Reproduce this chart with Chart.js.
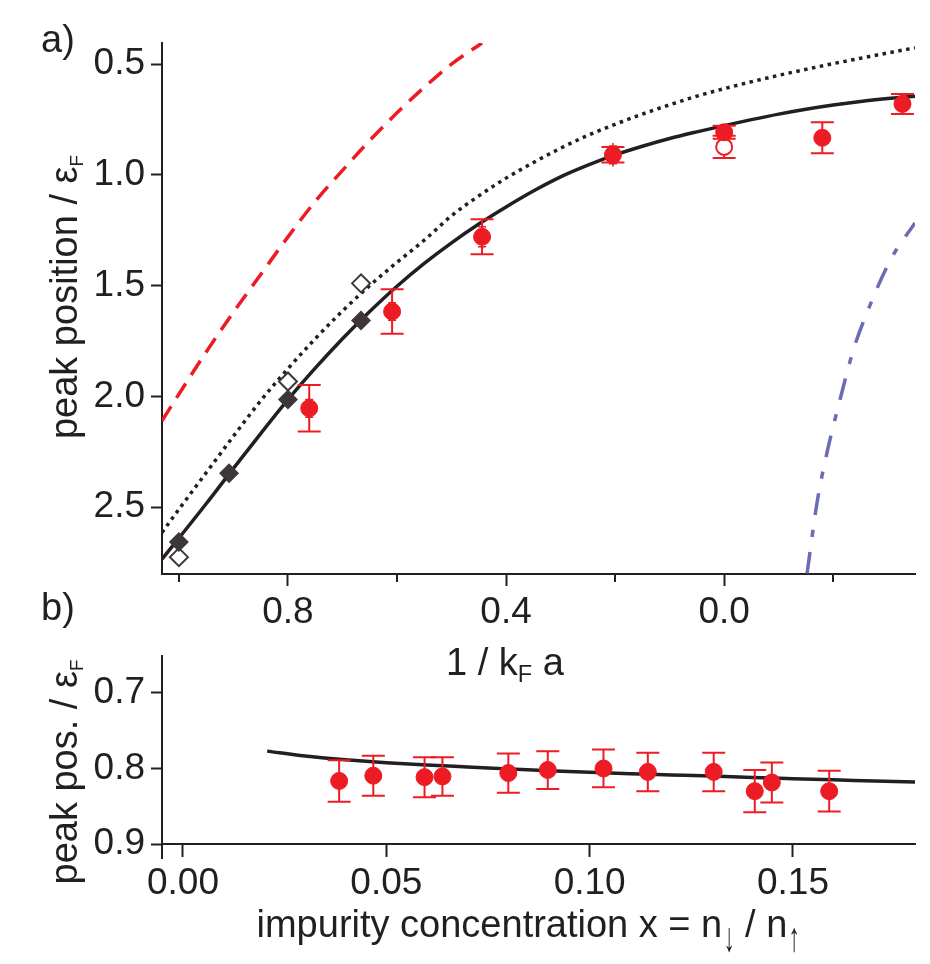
<!DOCTYPE html>
<html>
<head>
<meta charset="utf-8">
<script src="https://cdn.jsdelivr.net/npm/chart.js@4.4.1/dist/chart.umd.min.js"></script>
<style>
html,body{margin:0;padding:0;background:#fff;}
#wrap{position:relative;width:930px;height:964px;overflow:hidden;font-family:"Liberation Sans",Arial,Helvetica,sans-serif;color:#231f20;background:#fff;}
canvas{position:absolute;left:0;}
.t{position:absolute;white-space:nowrap;font-size:38px;line-height:38px;}
.t sub{line-height:0;}
.rot{transform:translate(-50%,-50%) rotate(-90deg);}
.ctr{transform:translateX(-50%);}
.arr{display:inline-block;font-size:0.8em;line-height:0;transform:scale(0.75,1.35);position:relative;top:0.33em;margin:0 -2px 0 -1px;}
</style>
</head>
<body>
<div id="wrap">
  <canvas id="chartA" width="930" height="640" style="top:0px"></canvas>
  <canvas id="chartB" width="930" height="324" style="top:640px"></canvas>
  <div class="t" style="left:41px;top:20px">a)</div>
  <div class="t" style="left:41px;top:588px">b)</div>
  <div class="t rot" style="left:64px;top:297px">peak position / ε<sub style="font-size:0.5em;vertical-align:-0.3em">F</sub></div>
  <div class="t rot" style="left:64px;top:772px">peak pos. / ε<sub style="font-size:0.5em;vertical-align:-0.3em">F</sub></div>
  <div class="t ctr" style="left:505px;top:643px">1 / k<sub style="font-size:0.62em;vertical-align:-0.3em">F</sub> a</div>
  <div class="t ctr" style="left:528px;top:905px">impurity concentration x = n<span class="arr">↓</span> / n<span class="arr">↑</span></div>
</div>
<script>
// ---------- Panel a: peak position vs 1/kFa ----------
const xMajorA = [0.8, 0.4, 0.0];
const xMajorLabelsA = ['0.8', '0.4', '0.0'];
const xMinorA = [1.0, 0.6, 0.2, -0.2];
const yTicksA = [0.5, 1.0, 1.5, 2.0, 2.5];
const yTickLabelsA = ['0.5', '1.0', '1.5', '2.0', '2.5'];

// experimental points (filled red circles)
const expX = [0.761, 0.609, 0.444, 0.204, 0.0, -0.18, -0.327];
const expY = [2.054, 1.617, 1.28, 0.91, 0.808, 0.833, 0.68];
const expErr = [0.105, 0.10, 0.079, 0.035, 0.029, 0.07, 0.045];
const expErrInner = [0.04, 0.04, 0.045, 0.04, 0.02, 0.0, 0.03];
// open red circle
const openX = [0.0];
const openY = [0.874];
const openErr = [0.05];
// filled diamonds
const diamX = [1.0, 0.908, 0.8, 0.666];
const diamY = [2.658, 2.347, 2.014, 1.658];
// open diamonds
const odiamX = [1.0, 0.8, 0.666];
const odiamY = [2.726, 1.933, 1.49];

// solid theory curve
const solidX = [1.031, 1.0, 0.95, 0.9, 0.85, 0.8, 0.75, 0.7, 0.65, 0.6, 0.55, 0.5, 0.45, 0.4, 0.35, 0.3, 0.25, 0.2, 0.15, 0.1, 0.05, 0.0, -0.05, -0.1, -0.15, -0.2, -0.25, -0.3, -0.35];
const solidY = [2.735, 2.64, 2.485, 2.325, 2.168, 2.015, 1.873, 1.74, 1.617, 1.503, 1.40, 1.307, 1.222, 1.145, 1.073, 1.009, 0.956, 0.91, 0.871, 0.836, 0.806, 0.778, 0.751, 0.726, 0.704, 0.685, 0.669, 0.656, 0.645];
// dotted curve
const dotX = [1.031, 1.0, 0.95, 0.9, 0.85, 0.8, 0.75, 0.7, 0.65, 0.6, 0.55, 0.5, 0.45, 0.4, 0.35, 0.3, 0.25, 0.2, 0.15, 0.1, 0.05, 0.0, -0.05, -0.1, -0.15, -0.2, -0.25, -0.3, -0.35];
const dotY = [2.615, 2.51, 2.345, 2.18, 2.02, 1.875, 1.74, 1.615, 1.50, 1.395, 1.295, 1.185, 1.095, 1.015, 0.945, 0.88, 0.822, 0.772, 0.726, 0.684, 0.645, 0.611, 0.58, 0.551, 0.524, 0.498, 0.474, 0.45, 0.427];
// red dashed curve
const redX = [1.031, 1.0, 0.95, 0.9, 0.85, 0.8, 0.75, 0.7, 0.65, 0.6, 0.55, 0.5, 0.444];
const redY = [2.11, 1.99, 1.80, 1.62, 1.45, 1.28, 1.12, 0.98, 0.845, 0.72, 0.605, 0.50, 0.405];
// blue dash-dot curve
const blueX = [-0.152, -0.171, -0.189, -0.213, -0.237, -0.264, -0.305, -0.35];
const blueY = [2.80, 2.47, 2.25, 2.01, 1.79, 1.61, 1.384, 1.217];

// ---------- Panel b: peak position vs impurity concentration ----------
const xTicksB = [0.00, 0.05, 0.10, 0.15];
const xTickLabelsB = ['0.00', '0.05', '0.10', '0.15'];
const yTicksB = [0.7, 0.8, 0.9];
const yTickLabelsB = ['0.7', '0.8', '0.9'];
const concX = [0.0384, 0.0468, 0.0594, 0.0638, 0.080, 0.0897, 0.1034, 0.1143, 0.1305, 0.1406, 0.1448, 0.1589];
const concY = [0.8165, 0.8095, 0.8115, 0.8105, 0.806, 0.802, 0.800, 0.8045, 0.8045, 0.830, 0.8185, 0.830];
const concErr = [0.0275, 0.0265, 0.0265, 0.0255, 0.026, 0.025, 0.025, 0.0255, 0.0255, 0.028, 0.0265, 0.027];
const fitBX = [0.0207, 0.03, 0.04, 0.05, 0.06, 0.07, 0.08, 0.09, 0.10, 0.11, 0.12, 0.13, 0.14, 0.15, 0.16, 0.17, 0.18];
const fitBY = [0.777, 0.7835, 0.7885, 0.7925, 0.7955, 0.798, 0.8005, 0.803, 0.805, 0.807, 0.8085, 0.810, 0.812, 0.8135, 0.815, 0.8165, 0.818];

// ---------- styling ----------
const INK = '#231f20';
const RED = '#ed1c24';
const BLUE = '#6b6bb6';
const DIAM = '#3d3738';
const FONT = '"Liberation Sans", Arial, Helvetica, sans-serif';

const pts = (xs, ys) => xs.map((x, i) => ({x: x, y: ys[i]}));

const errorBarPlugin = {
  id: 'errbars',
  beforeDatasetDraw(chart, args) {
    const ds = chart.data.datasets[args.index];
    if (!ds.err) return;
    const xs = chart.scales.x, ys = chart.scales.y, c = chart.ctx;
    c.save();
    c.strokeStyle = ds.errColor || RED;
    c.lineWidth = 2;
    ds.data.forEach((p, i) => {
      const px = xs.getPixelForValue(p.x);
      const e = ds.err[i];
      const y1 = ys.getPixelForValue(p.y - e), y2 = ys.getPixelForValue(p.y + e);
      const w = ds.capHalf || 11.5;
      c.beginPath();
      c.moveTo(px, y1); c.lineTo(px, y2);
      c.moveTo(px - w, y1); c.lineTo(px + w, y1);
      c.moveTo(px - w, y2); c.lineTo(px + w, y2);
      c.stroke();
    });
    c.restore();
  },
  afterDatasetDraw(chart, args) {
    const ds = chart.data.datasets[args.index];
    if (!ds.err || !ds.errInner) return;
    const xs = chart.scales.x, ys = chart.scales.y, c = chart.ctx;
    c.save();
    c.strokeStyle = RED; c.lineWidth = 1.5;
    ds.data.forEach((p, i) => {
      const e2 = ds.errInner[i];
      if (!e2) return;
      const px = xs.getPixelForValue(p.x);
      const a1 = ys.getPixelForValue(p.y - e2), a2 = ys.getPixelForValue(p.y + e2);
      c.beginPath();
      c.moveTo(px - 4, a1); c.lineTo(px + 4, a1);
      c.moveTo(px - 4, a2); c.lineTo(px + 4, a2);
      c.moveTo(px, a1 - 3); c.lineTo(px, a2 + 3);
      c.stroke();
    });
    c.restore();
  }
};

const minorTickPlugin = {
  id: 'minorTicks',
  afterDraw(chart, args, opts) {
    if (!opts || !opts.values) return;
    const xs = chart.scales.x, c = chart.ctx, y0 = chart.chartArea.bottom;
    c.save();
    c.strokeStyle = INK; c.lineWidth = 2;
    opts.values.forEach(v => {
      const px = Math.round(xs.getPixelForValue(v));
      c.beginPath(); c.moveTo(px, y0); c.lineTo(px, y0 + opts.len); c.stroke();
    });
    c.restore();
  }
};

function xScale(min, max, reverse, ticks, labels, tickLen, height) {
  return {
    type: 'linear', min: min, max: max, reverse: reverse,
    afterBuildTicks: s => { s.ticks = ticks.map(v => ({value: v})); },
    afterFit: s => { s.height = height; s.paddingLeft = 0; s.paddingRight = 0; },
    ticks: { autoSkip: false, maxRotation: 0, minRotation: 0, padding: 5, color: INK,
             font: {family: FONT, size: 37}, callback: (v, i) => labels[i] },
    grid: { drawOnChartArea: false, drawTicks: true, tickLength: tickLen, tickWidth: 2, tickColor: INK },
    border: { display: true, color: INK, width: 2 }
  };
}
function yScale(min, max, ticks, labels, width) {
  return {
    type: 'linear', min: min, max: max, reverse: true,
    afterBuildTicks: s => { s.ticks = ticks.map(v => ({value: v})); },
    afterFit: s => { s.width = width; s.paddingTop = 0; s.paddingBottom = 0; },
    ticks: { autoSkip: false, padding: 6, color: INK,
             font: {family: FONT, size: 37}, callback: (v, i) => labels[i] },
    grid: { drawOnChartArea: false, drawTicks: true, tickLength: 11, tickWidth: 2, tickColor: INK },
    border: { display: true, color: INK, width: 2 }
  };
}

const lineDs = (data, color, width, dash) => ({
  data: data, showLine: true, fill: false, borderColor: color, borderWidth: width,
  borderDash: dash, borderCapStyle: 'butt', pointRadius: 0, pointHoverRadius: 0,
  cubicInterpolationMode: 'monotone', clip: 0
});

new Chart(document.getElementById('chartA'), {
  type: 'scatter',
  data: {
    datasets: [
      { data: pts(expX, expY), err: expErr, errInner: expErrInner, pointStyle: 'circle',
        pointRadius: 8.5, pointBackgroundColor: RED, pointBorderColor: RED, pointBorderWidth: 1 },
      { data: pts(openX, openY), err: openErr, pointStyle: 'circle',
        pointRadius: 8, pointBackgroundColor: '#ffffff', pointBorderColor: RED, pointBorderWidth: 2 },
      { data: pts(diamX, diamY), pointStyle: 'rectRot',
        pointRadius: 10, pointBackgroundColor: DIAM, pointBorderColor: DIAM, pointBorderWidth: 0 },
      { data: pts(odiamX, odiamY), pointStyle: 'rectRot',
        pointRadius: 9, pointBackgroundColor: '#ffffff', pointBorderColor: DIAM, pointBorderWidth: 2 },
      lineDs(pts(solidX, solidY), INK, 3.5, []),
      lineDs(pts(dotX, dotY), INK, 3.5, [3.5, 4.5]),
      lineDs(pts(redX, redY), RED, 3.5, [17, 10]),
      lineDs(pts(blueX, blueY), BLUE, 3.5, [22, 15, 7, 15])
    ]
  },
  options: {
    responsive: false, animation: false, events: [],
    layout: { padding: { top: 43, right: 15, left: 0, bottom: 0 } },
    plugins: { legend: { display: false }, tooltip: { enabled: false },
               minorTicks: { values: xMinorA, len: 8 } },
    scales: {
      x: xScale(-0.35, 1.031, true, xMajorA, xMajorLabelsA, 12, 66),
      y: yScale(0.405, 2.802, yTicksA, yTickLabelsA, 162)
    }
  },
  plugins: [errorBarPlugin, minorTickPlugin]
});

new Chart(document.getElementById('chartB'), {
  type: 'scatter',
  data: {
    datasets: [
      { data: pts(concX, concY), err: concErr, pointStyle: 'circle',
        pointRadius: 8.5, pointBackgroundColor: RED, pointBorderColor: RED, pointBorderWidth: 1 },
      lineDs(pts(fitBX, fitBY), INK, 3.5, [])
    ]
  },
  options: {
    responsive: false, animation: false, events: [],
    layout: { padding: { top: 16, right: 15, left: 0, bottom: 0 } },
    plugins: { legend: { display: false }, tooltip: { enabled: false },
               minorTicks: { values: [-0.00516], len: 15 } },
    scales: {
      x: xScale(-0.00516, 0.18, false, xTicksB, xTickLabelsB, 13, 120),
      y: yScale(0.651, 0.9, yTicksB, yTickLabelsB, 162)
    }
  },
  plugins: [errorBarPlugin, minorTickPlugin]
});
</script>
</body>
</html>
